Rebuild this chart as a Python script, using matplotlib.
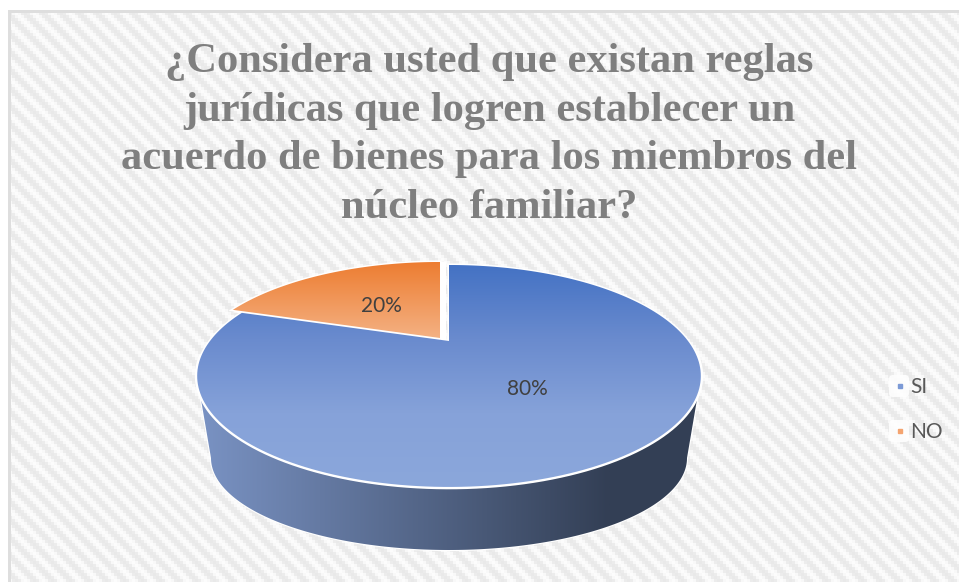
import numpy as np
import matplotlib
matplotlib.use("Agg")
import matplotlib.pyplot as plt
from matplotlib.patches import Polygon, FancyBboxPatch, Rectangle
from matplotlib.colors import LinearSegmentedColormap
from matplotlib.lines import Line2D

# Données du graphique
categories = ["SI", "NO"]
valeurs = [80, 20]
etiquettes = ["80%", "20%"]
titre = ("¿Considera usted que existan reglas\n"
         "jurídicas que logren establecer un\n"
         "acuerdo de bienes para los miembros del\n"
         "núcleo familiar?")
couleurs_legende = ["#7C9AD6", "#F4A470"]

W, H = 959, 582
CX, CY = 449, 376      # centre de l'ellipse du dessus
A, B = 239, 111        # demi-axes du disque avant perspective
C, K = -35, -0.315     # perspective : le centre du disque remonte


# Projection d'un point du disque (angle horaire depuis le haut) vers l'image
def projeter(angles):
    u = np.sin(angles)
    v = -np.cos(angles)
    d = 1 + K * v
    return A * u / d, (B * v + C) / d


# Contour d'une part, du centre vers l'arc
def part(debut, fin, dx=0, dy=0):
    t = np.linspace(debut, fin, 200)
    x, y = projeter(t)
    x = np.r_[0, x, 0] + CX + dx
    y = np.r_[C, y, C] + CY + dy
    return np.column_stack([x, y])


# Remplir un polygone avec un dégradé
def degrade(ax, poly, couleurs, etendue, horizontal=False, z=2):
    cmap = LinearSegmentedColormap.from_list("d", couleurs)
    g = np.linspace(0, 1, 256)
    g = g.reshape(1, -1) if horizontal else g.reshape(-1, 1)
    im = ax.imshow(g, cmap=cmap, extent=etendue, aspect="auto", zorder=z, origin="upper")
    patch = Polygon(poly, closed=True, transform=ax.transData, fc="none", ec="none")
    ax.add_patch(patch)
    im.set_clip_path(patch)


fig = plt.figure(figsize=(W / 100, H / 100), dpi=100)
ax = fig.add_axes([0, 0, 1, 1])

# Fond hachuré : escalier de blocs de 3 pixels
yy, xx = np.mgrid[0:H, 0:W]
i, j = xx // 3, yy // 3
bande = ((i - j) % 6 < 3) * 0.8 + ((i + j) % 2) * 0.2
ax.imshow(bande, cmap=LinearSegmentedColormap.from_list("f", ["#E9E9E9", "#FCFCFC"]),
          extent=(0, W, H, 0), aspect="auto", zorder=0, interpolation="bilinear")
ax.add_patch(Rectangle((0, 0), W, 10, fc="white", ec="none", zorder=1))
ax.add_patch(Rectangle((0, 0), 8, H, fc="white", ec="none", zorder=1))
ax.add_patch(Rectangle((8, 10), 3, H, fc="#DEDEDE", ec="none", zorder=1))
ax.add_patch(Rectangle((8, 10), W, 3, fc="#DEDEDE", ec="none", zorder=1))

# Flanc du cylindre
t_bas = np.linspace(-np.pi / 2, np.pi / 2, 200)
cote = np.r_[
    np.column_stack([CX + 252 * np.sin(t_bas[::-1]), CY + 111 * np.cos(t_bas[::-1])]),
    np.column_stack([CX + 238 * np.sin(t_bas), 458 + 92 * np.cos(t_bas)]),
]
ax.add_patch(Polygon(cote, closed=True, fc="white", ec="white", lw=1.6, zorder=2))
degrade(ax, cote, ["#7A93C4", "#333F55"], (197, 610, 560, 380), horizontal=True, z=3)
ax.add_patch(Rectangle((610, 380), 95, 180, fc="#333F55", ec="none", zorder=3,
                       clip_path=Polygon(cote, closed=True, transform=ax.transData)))

# Parts du dessus, calculées à partir des valeurs
fractions = np.cumsum([0] + valeurs) / sum(valeurs) * 2 * np.pi
poly_si = part(fractions[0], fractions[1])
poly_no = part(fractions[1], fractions[2], dx=-9, dy=-3)
poly_gap = part(fractions[1], fractions[2], dx=-4.5, dy=-1.5)
for p in [poly_si, poly_no, poly_gap]:
    ax.add_patch(Polygon(p, closed=True, fc="white", ec="white", lw=2.2, zorder=4, joinstyle="miter"))
# Liseré blanc plus marqué sur le devant du disque
t_avant = np.linspace(np.pi * 0.55, np.pi * 1.45, 200)
avant_x, avant_y = projeter(t_avant)
ax.plot(avant_x + CX, avant_y + CY, color="white", lw=3.4, zorder=4)
degrade(ax, poly_si, ["#4472C4", "#6A8BCE", "#86A2D9", "#8BA7DB"], (190, 710, 487, 265), z=5)
degrade(ax, poly_no, ["#ED7D31", "#F4B183"], (230, 445, 338, 262), z=5)

# Étiquettes
ax.text(527, 389, etiquettes[0], ha="center", va="center", fontsize=15,
        family="Lato", color="#404040", zorder=6)
ax.text(381, 306, etiquettes[1], ha="center", va="center", fontsize=15,
        family="Lato", color="#404040", zorder=6)

# Titre
ax.text(489, 135, titre, ha="center", va="center", fontsize=30.6, fontweight="bold",
        family="Liberation Serif", color="#7F7F7F", linespacing=1.37, zorder=6)

# Légende
for y in [386, 431]:
    ax.add_patch(FancyBboxPatch((889, y - 11), 20, 22, boxstyle="round,pad=0,rounding_size=4",
                                fc="white", ec="none", alpha=0.85, zorder=5))
poignees = [Line2D([], [], ls="", marker="s", ms=3.4, color=c) for c in couleurs_legende]
leg = ax.legend(poignees, categories, loc="center left", bbox_to_anchor=(895 / W, 1 - 409.5 / H),
                bbox_transform=ax.transAxes, frameon=False,
                labelspacing=1.2, handlelength=0.5, handletextpad=0.22,
                borderpad=0, borderaxespad=0, prop={"family": "Lato", "size": 15})
for txt in leg.get_texts():
    txt.set_color("#595959")
leg.set_zorder(6)

ax.set_xlim(0, W)
ax.set_ylim(H, 0)
ax.axis("off")
fig.savefig("out.png", dpi=100, facecolor="white")
